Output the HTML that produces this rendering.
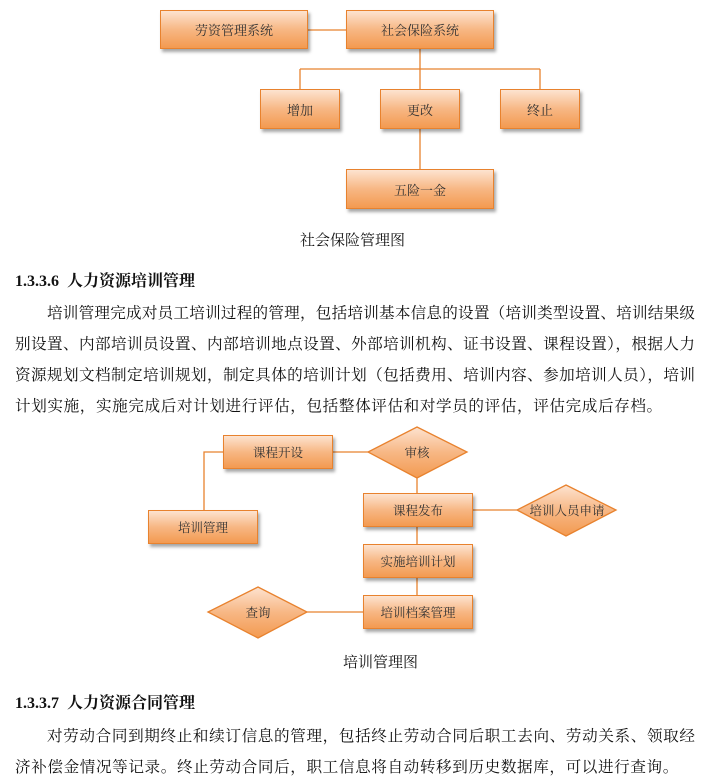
<!DOCTYPE html>
<html><head><meta charset="utf-8"><style>
body{margin:0;width:710px;height:782px;background:#fff;position:relative;overflow:hidden;font-family:"Liberation Serif","Noto Serif CJK SC",serif;color:#111}
.b{position:absolute;box-sizing:border-box;border:1.5px solid #e8822e;background:linear-gradient(#fde3d0,#f7b784 50%,#f39a50);box-shadow:2px 3px 3px rgba(0,0,0,.35);display:flex;align-items:center;justify-content:center;font-size:13px;color:#333}
.t{position:absolute;white-space:nowrap}
.p{position:absolute;left:15px;width:680px;font-size:15.6px;text-align:justify;text-align-last:justify;white-space:nowrap}
.h{position:absolute;left:15px;font-weight:bold;font-size:16px}
</style></head><body>
<svg width="710" height="782" style="position:absolute;left:0;top:0">
<defs><linearGradient id="g" x1="0" y1="0" x2="0" y2="1"><stop offset="0" stop-color="#fde3d0"/><stop offset=".5" stop-color="#f7b784"/><stop offset="1" stop-color="#f39a50"/></linearGradient></defs>
<g stroke="#e8822e" stroke-width="1.3" fill="none">
<line x1="308" y1="30" x2="346" y2="30"/>
<line x1="420" y1="49" x2="420" y2="169"/>
<line x1="300" y1="69" x2="540" y2="69"/>
<line x1="300" y1="69" x2="300" y2="89"/>
<line x1="540" y1="69" x2="540" y2="89"/>
<line x1="333" y1="452" x2="368" y2="452"/>
<polyline points="223,452 204,452 204,510"/>
<line x1="417" y1="478" x2="417" y2="595"/>
<line x1="473" y1="510" x2="517" y2="510"/>
<line x1="307" y1="612" x2="363" y2="612"/>
</g>
<g fill="url(#g)" stroke="#e8822e" stroke-width="1.3">
<polygon points="417,427 467,452 417,478 368,452"/>
<polygon points="566,485 616,510 566,536 517,510"/>
<polygon points="258,587 307,612 258,638 208,612"/>
</g>
<g font-size="12.5" fill="#333" text-anchor="middle" font-family="Liberation Serif,Noto Serif CJK SC,serif">
<text x="417" y="457">审核</text>
<text x="567" y="515">培训人员申请</text>
<text x="258" y="617">查询</text>
</g>
</svg>
<div class="b" style="left:160px;top:10px;width:148px;height:39px">劳资管理系统</div>
<div class="b" style="left:346px;top:10px;width:148px;height:39px">社会保险系统</div>
<div class="b" style="left:260px;top:89px;width:80px;height:40px">增加</div>
<div class="b" style="left:380px;top:89px;width:80px;height:40px">更改</div>
<div class="b" style="left:500px;top:89px;width:80px;height:40px">终止</div>
<div class="b" style="left:346px;top:169px;width:148px;height:40px">五险一金</div>
<div class="t" style="left:300px;top:229px;font-size:15px">社会保险管理图</div>
<div class="h" style="top:268px">1.3.3.6&nbsp; 人力资源培训管理</div>
<div class="p" style="top:301px;left:47px;width:648px">培训管理完成对员工培训过程的管理，包括培训基本信息的设置（培训类型设置、培训结果级</div>
<div class="p" style="top:332px">别设置、内部培训员设置、内部培训地点设置、外部培训机构、证书设置、课程设置），根据人力</div>
<div class="p" style="top:363px">资源规划文档制定培训规划，制定具体的培训计划（包括费用、培训内容、参加培训人员），培训</div>
<div class="t" style="left:15px;top:394px;font-size:15.6px;letter-spacing:.6px">计划实施，实施完成后对计划进行评估，包括整体评估和对学员的评估，评估完成后存档。</div>
<div class="b" style="left:223px;top:435px;width:110px;height:34px;font-size:12.5px">课程开设</div>
<div class="b" style="left:148px;top:510px;width:110px;height:34px;font-size:12.5px">培训管理</div>
<div class="b" style="left:363px;top:493px;width:110px;height:34px;font-size:12.5px">课程发布</div>
<div class="b" style="left:363px;top:544px;width:110px;height:34px;font-size:12.5px">实施培训计划</div>
<div class="b" style="left:363px;top:595px;width:110px;height:34px;font-size:12.5px">培训档案管理</div>
<div class="t" style="left:343px;top:651px;font-size:15px">培训管理图</div>
<div class="h" style="top:690px">1.3.3.7&nbsp; 人力资源合同管理</div>
<div class="p" style="top:724px;left:47px;width:648px">对劳动合同到期终止和续订信息的管理，包括终止劳动合同后职工去向、劳动关系、领取经</div>
<div class="t" style="left:15px;top:755px;font-size:15.6px;letter-spacing:.6px">济补偿金情况等记录。终止劳动合同后，职工信息将自动转移到历史数据库，可以进行查询。</div>
</body></html>
